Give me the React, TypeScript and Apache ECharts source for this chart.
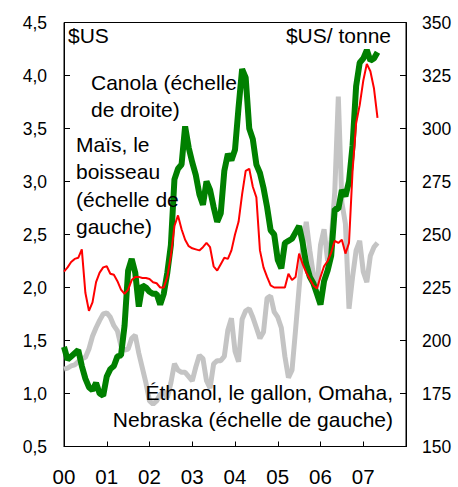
import React, { useEffect, useRef } from "react";
import * as echarts from "echarts";

// Monthly observations, January 2000 to May 2007
const cornUSDperBushel = [
  2.15, 2.19, 2.24, 2.27, 2.28, 2.36, 1.95, 1.78, 1.86, 2.05, 2.14, 2.19,
  2.2, 2.13, 2.12, 2.06, 1.98, 1.94, 1.98, 2.07, 2.1, 2.1, 2.09, 2.09,
  2.08, 2.05, 2.04, 2.0, 2.0, 2.1, 2.3, 2.58, 2.68, 2.55, 2.45, 2.39,
  2.37, 2.36, 2.35, 2.38, 2.42, 2.38, 2.2, 2.16, 2.22, 2.28, 2.27, 2.35,
  2.5, 2.62, 2.88, 3.1, 3.12, 2.95, 2.85, 2.35, 2.19, 2.1, 2.02, 2.0,
  2.0, 2.0, 2.0, 2.13, 2.07, 2.1, 2.32, 2.22, 2.14, 2.08, 2.02, 1.99,
  2.1, 2.2, 2.25, 2.33, 2.44, 2.42, 2.45, 2.32, 2.42, 3.1, 3.55, 3.72,
  3.95, 4.11, 4.04, 3.88, 3.6,
];

const ethanolUSDperGallon = [
  1.23, 1.24, 1.26, 1.27, 1.3, 1.33, 1.34, 1.42, 1.54, 1.62, 1.69, 1.75,
  1.76, 1.72, 1.64, 1.59, 1.45, 1.41, 1.42, 1.52, 1.55, 1.38, 1.24, 1.1,
  0.93, 0.9, 0.93, 0.99, 1.02, 0.96, 1.1, 1.28, 1.22, 1.2, 1.2, 1.16,
  1.12, 1.25, 1.36, 1.33, 1.12, 1.05, 1.28, 1.31, 1.31, 1.35, 1.6, 1.71,
  1.4, 1.3, 1.7, 1.78, 1.8, 1.72, 1.62, 1.52, 1.58, 1.9, 1.92, 1.77,
  1.72, 1.62, 1.35, 1.15, 1.22, 1.6, 2.0, 2.4, 2.62, 2.35, 2.12, 2.0,
  2.4, 2.55, 2.25, 2.45, 2.9, 3.8, 2.8, 2.6, 1.8, 2.1, 2.35, 2.44,
  2.15, 2.05, 2.3, 2.38, 2.42,
];

const canolaUSDperTonne = [
  197, 191, 192.5, 194, 195.5, 188, 182, 178, 176.5, 180, 175, 174,
  183, 186.5, 188, 192.5, 193, 207, 233, 238.5, 232, 216, 226, 225,
  223, 222, 222, 217, 222, 232, 245, 276, 281, 283, 301, 291,
  284, 278, 269, 264, 275, 271, 263, 256, 260, 280, 288, 285,
  290, 310, 328, 324, 300, 295, 283, 279, 272, 263, 252, 250,
  238, 234, 246, 247, 248, 251, 254, 246, 236, 230, 227, 222,
  217, 228, 233, 240, 262, 262, 271, 268, 275, 292, 320, 331,
  333, 337, 332, 333, 336,
];

const yearLabels = ["00", "01", "02", "03", "04", "05", "06", "07"];

const FONT = "'Liberation Sans', Arial, sans-serif";

const toPoints = (arr: number[]) => arr.map((v, i) => [i / 12, v]);

export default function App() {
  const ref = useRef<HTMLDivElement>(null);

  useEffect(() => {
    if (!ref.current) return;
    const chart = echarts.init(ref.current, null, { renderer: "svg" });

    const annot = (
      text: string,
      x: number,
      y: number,
      align: "left" | "right" = "left"
    ) => ({
      type: "text",
      x,
      y,
      z: 100,
      style: {
        text,
        fill: "#000",
        font: `21px ${FONT}`,
        align,
        verticalAlign: "middle",
      },
    });

    chart.setOption({
      animation: false,
      backgroundColor: "#fff",
      grid: {
        left: 64,
        right: 52,
        top: 22.5,
        bottom: 40.5,
        show: true,
        borderColor: "#000",
        borderWidth: 1,
        backgroundColor: "transparent",
      },
      xAxis: {
        type: "value",
        min: 0,
        max: 8,
        interval: 1,
        axisLine: { show: true, lineStyle: { color: "#000", width: 1 } },
        axisTick: { show: true, inside: true, length: 5, lineStyle: { color: "#000" } },
        splitLine: { show: false },
        axisLabel: {
          margin: 19,
          color: "#000",
          fontFamily: FONT,
          fontSize: 20.5,
          formatter: (v: number) => yearLabels[Math.round(v)] ?? "",
        },
      },
      yAxis: [
        {
          type: "value",
          position: "left",
          min: 0.5,
          max: 4.5,
          interval: 0.5,
          axisLine: { show: true, lineStyle: { color: "#000", width: 1 } },
          axisTick: { show: true, inside: true, length: 6, lineStyle: { color: "#000" } },
          splitLine: { show: false },
          axisLabel: {
            margin: 17,
            color: "#000",
            fontFamily: FONT,
            fontSize: 17.5,
            formatter: (v: number) => v.toFixed(1).replace(".", ","),
          },
        },
        {
          type: "value",
          position: "right",
          min: 150,
          max: 350,
          interval: 25,
          axisLine: { show: true, lineStyle: { color: "#000", width: 1 } },
          axisTick: { show: true, inside: true, length: 6, lineStyle: { color: "#000" } },
          splitLine: { show: false },
          axisLabel: {
            margin: 16,
            color: "#000",
            fontFamily: FONT,
            fontSize: 17.5,
          },
        },
      ],
      series: [
        {
          name: "Éthanol, le gallon, Omaha, Nebraska",
          type: "line",
          yAxisIndex: 0,
          data: toPoints(ethanolUSDperGallon),
          showSymbol: false,
          symbol: "none",
          lineStyle: { color: "#c4c4c4", width: 5 },
          z: 2,
        },
        {
          name: "Canola",
          type: "line",
          yAxisIndex: 1,
          data: toPoints(canolaUSDperTonne),
          showSymbol: false,
          symbol: "none",
          lineStyle: { color: "#008000", width: 6 },
          z: 3,
        },
        {
          name: "Maïs, le boisseau",
          type: "line",
          yAxisIndex: 0,
          data: toPoints(cornUSDperBushel),
          showSymbol: false,
          symbol: "none",
          lineStyle: { color: "#ff0000", width: 2 },
          z: 4,
        },
      ],
      graphic: [
        annot("$US", 68, 35),
        annot("$US/ tonne", 391, 35, "right"),
        annot("Canola (échelle", 91, 82),
        annot("de droite)", 91, 109),
        annot("Maïs, le", 76, 144),
        annot("boisseau", 76, 171),
        annot("(échelle de", 76, 199),
        annot("gauche)", 76, 226),
        annot("Éthanol, le gallon, Omaha,", 393, 392, "right"),
        annot("Nebraska (échelle de gauche)", 393, 419, "right"),
      ],
    });

    return () => chart.dispose();
  }, []);

  return (
    <div
      ref={ref}
      style={{ position: "absolute", left: 0, top: 0, width: 458, height: 487 }}
    />
  );
}
